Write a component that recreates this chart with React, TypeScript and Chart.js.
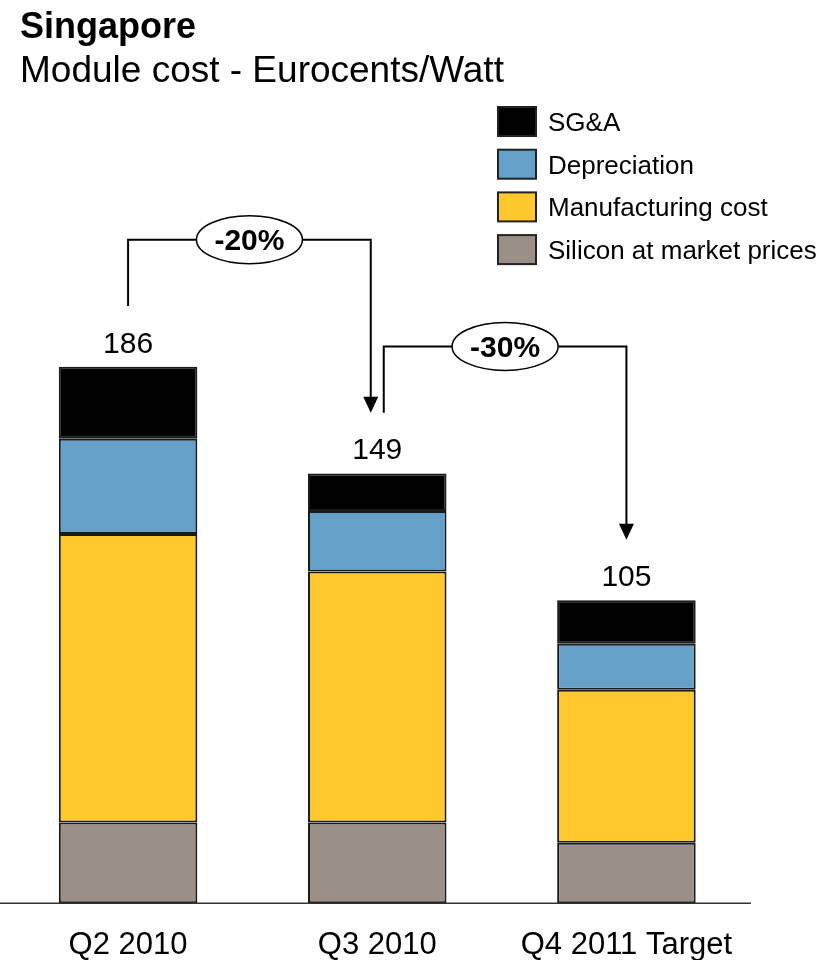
import React, { useEffect, useRef } from "react";
import { Chart, registerables } from "chart.js";

Chart.register(...registerables);

const categories = ["Q2 2010", "Q3 2010", "Q4 2011 Target"];
const silicon = [28, 28, 21];
const manufacturing = [100, 87, 53];
const depreciation = [33, 21, 16];
const sga = [25, 13, 15];
const changeLabels = ["-20%", "-30%"];
const seriesNames = ["Silicon at market prices", "Manufacturing cost", "Depreciation", "SG&A"];
const seriesColors = ["#9A9087", "#FFC92E", "#65A0C8", "#000000"];
const titleText = "Singapore";
const subtitleText = "Module cost - Eurocents/Watt";
const yMax = 250;

const FONT = "'Liberation Sans', Arial, Helvetica, sans-serif";

const annotationPlugin = {
  id: "annotations",
  afterDatasetsDraw(chart: any) {
    const ctx = chart.ctx;
    const area = chart.chartArea;
    const yScale = chart.scales.y;
    const metas = chart.data.datasets.map((_: any, i: number) => chart.getDatasetMeta(i));
    const n = chart.data.labels.length;
    const totals: number[] = [];
    for (let i = 0; i < n; i++) {
      let s = 0;
      chart.data.datasets.forEach((d: any) => (s += d.data[i]));
      totals.push(s);
    }
    const centers = metas[0].data.map((el: any) => el.x);

    ctx.save();
    // axis line
    ctx.strokeStyle = "#333";
    ctx.lineWidth = 1.6;
    ctx.beginPath();
    ctx.moveTo(0, area.bottom);
    ctx.lineTo(area.right, area.bottom);
    ctx.stroke();

    // totals
    ctx.fillStyle = "#000";
    ctx.font = `30px ${FONT}`;
    ctx.textAlign = "center";
    ctx.textBaseline = "alphabetic";
    totals.forEach((t, i) => {
      ctx.fillText(String(t), centers[i], yScale.getPixelForValue(t) - 14);
    });

    // brackets
    const endGap = 21;
    const rise = 44;
    const inner = 6.5;
    for (let i = 0; i < n - 1; i++) {
      const x1 = centers[i] + (i > 0 ? inner : 0);
      const x2 = centers[i + 1] - (i + 1 < n - 1 ? inner : 0);
      const yStart = yScale.getPixelForValue(totals[i] + endGap);
      const yTop = yScale.getPixelForValue(totals[i] + rise);
      const yEnd = yScale.getPixelForValue(totals[i + 1] + endGap);
      ctx.strokeStyle = "#000";
      ctx.lineWidth = 2;
      ctx.beginPath();
      ctx.moveTo(x1, yStart);
      ctx.lineTo(x1, yTop);
      ctx.lineTo(x2, yTop);
      ctx.lineTo(x2, yEnd - 14);
      ctx.stroke();
      // arrow head
      ctx.fillStyle = "#000";
      ctx.beginPath();
      ctx.moveTo(x2 - 7.5, yEnd - 16);
      ctx.lineTo(x2 + 7.5, yEnd - 16);
      ctx.lineTo(x2, yEnd);
      ctx.closePath();
      ctx.fill();
      // ellipse
      const cx = (x1 + x2) / 2;
      ctx.beginPath();
      ctx.ellipse(cx, yTop, 53, 24, 0, 0, Math.PI * 2);
      ctx.fillStyle = "#fff";
      ctx.fill();
      ctx.lineWidth = 1.5;
      ctx.stroke();
      ctx.fillStyle = "#000";
      ctx.font = `bold 30px ${FONT}`;
      ctx.textAlign = "center";
      ctx.fillText(changeLabels[i], cx, yTop + 10.5);
    }
    ctx.restore();
  },
  afterDraw(chart: any) {
    const ctx = chart.ctx;
    ctx.save();
    ctx.fillStyle = "#000";
    ctx.textAlign = "left";
    ctx.textBaseline = "alphabetic";
    ctx.font = `bold 36px ${FONT}`;
    ctx.fillText(titleText, 20, 38);
    ctx.font = `37px ${FONT}`;
    ctx.fillText(subtitleText, 20, 82);

    // legend (top-most series first)
    const ds = chart.data.datasets;
    const rowStart = 121.5;
    const rowGap = 42.7;
    const fs = 26;
    for (let k = 0; k < ds.length; k++) {
      const d = ds[ds.length - 1 - k];
      const cy = rowStart + k * rowGap;
      ctx.fillStyle = d.backgroundColor;
      ctx.fillRect(498, cy - 14.5, 38, 29);
      ctx.strokeStyle = "#222";
      ctx.lineWidth = 2;
      ctx.strokeRect(498, cy - 14.5, 38, 29);
      ctx.fillStyle = "#000";
      ctx.font = `${fs}px ${FONT}`;
      ctx.fillText(d.label, 548, cy + fs * 0.716 / 2);
    }
    ctx.restore();
  },
};

export default function App() {
  const ref = useRef<HTMLCanvasElement | null>(null);
  useEffect(() => {
    if (!ref.current) return;
    const values = [silicon, manufacturing, depreciation, sga];
    const chart = new Chart(ref.current, {
      type: "bar",
      data: {
        labels: categories,
        datasets: values.map((v, i) => ({
          label: seriesNames[i],
          data: v,
          backgroundColor: seriesColors[i],
          borderColor: "#1a1a1a",
          borderWidth: 2,
          borderSkipped: false,
          barPercentage: 0.556,
          categoryPercentage: 1,
        })),
      },
      options: {
        animation: false,
        responsive: false,
        maintainAspectRatio: false,
        layout: { padding: { left: 3.5, right: 85, top: 182, bottom: 0 } },
        plugins: {
          legend: { display: false },
          tooltip: { enabled: false },
          title: { display: false },
        },
        scales: {
          x: {
            stacked: true,
            grid: { display: false },
            border: { display: false },
            ticks: {
              color: "#000",
              font: { family: FONT, size: 31 },
              padding: 16,
              maxRotation: 0,
              autoSkip: false,
            },
            afterFit: (s: any) => {
              s.height = 56.7;
            },
          },
          y: { stacked: true, display: false, min: 0, max: yMax },
        },
      },
      plugins: [annotationPlugin],
    });
    return () => chart.destroy();
  }, []);
  return (
    <div style={{ position: "absolute", left: 0, top: 0, width: 836, height: 960 }}>
      <canvas ref={ref} width={836} height={960} style={{ display: "block", width: 836, height: 960 }} />
    </div>
  );
}
